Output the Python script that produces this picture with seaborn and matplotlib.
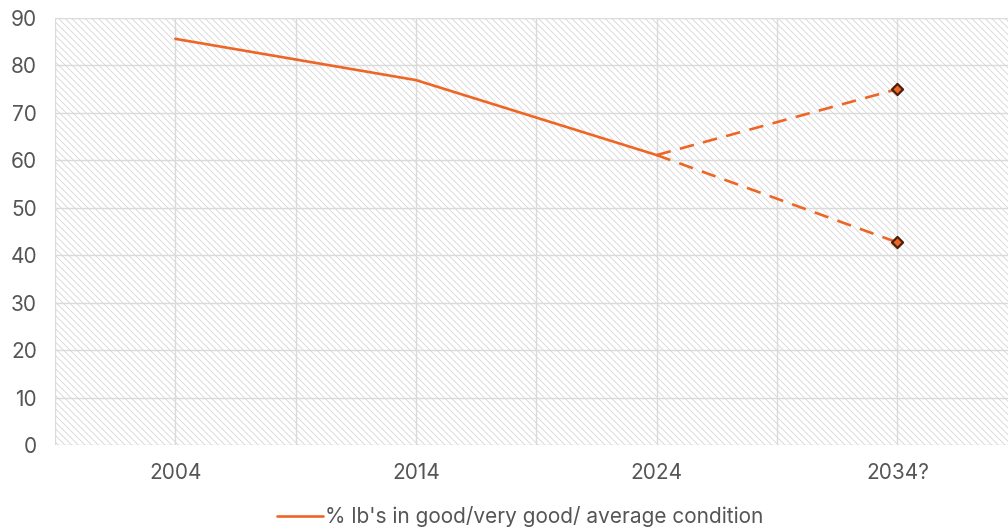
import matplotlib
matplotlib.use("Agg")
import matplotlib.pyplot as plt
import seaborn as sns
import pandas as pd

# Categories and series values
years = ["2004", "2014", "2024", "2034?"]
share_good = [85.6, 76.9, 61.1]            # observed share, 2004-2024
proj_high = [61.1, 75.0]                   # optimistic projection, 2024 -> 2034?
proj_low = [61.1, 42.7]                    # pessimistic projection, 2024 -> 2034?
y_ticks = [0, 10, 20, 30, 40, 50, 60, 70, 80, 90]
legend_label = "% lb's in good/very good/ average condition"

orange = "#EE6626"
edge_dark = "#4A1E08"
text_grey = "#555555"
grid_grey = "#DADADA"
hatch_grey = "#D2D2D2"

sns.set_theme(style="white")
plt.rcParams["font.family"] = ["Inter", "DejaVu Sans"]
plt.rcParams["hatch.color"] = hatch_grey
plt.rcParams["hatch.linewidth"] = 0.55

fig = plt.figure(figsize=(10.08, 5.30), dpi=100)
ax = fig.add_axes([0.0546, 0.1604, 0.955, 0.8057])

# Hatched plot background
ax.patch.set_facecolor("white")
ax.patch.set_hatch("\\" * 5)
ax.patch.set_edgecolor(hatch_grey)
ax.patch.set_linewidth(0)

pos = list(range(len(years)))
main_df = pd.DataFrame({"x": pos[:3], "y": share_good})
high_df = pd.DataFrame({"x": pos[2:], "y": proj_high})
low_df = pd.DataFrame({"x": pos[2:], "y": proj_low})

sns.lineplot(data=main_df, x="x", y="y", ax=ax, color=orange, linewidth=1.9,
             label=legend_label, zorder=3)
for df in (high_df, low_df):
    sns.lineplot(data=df, x="x", y="y", ax=ax, color=orange, linewidth=1.9,
                 linestyle=(0, (5.5, 3.6)), zorder=3)

end_df = pd.DataFrame({"x": [pos[3], pos[3]], "y": [proj_high[-1], proj_low[-1]]})
sns.scatterplot(data=end_df, x="x", y="y", ax=ax, marker="D", s=32,
                color=orange, edgecolor=edge_dark, linewidth=1.6, zorder=4,
                legend=False)

# Axes, ticks and grid
ax.set_xlim(-0.5, 3.5)
ax.set_ylim(0, 90)
ax.set_yticks(y_ticks)
ax.set_xticks(pos)
ax.set_xticklabels(years)
ax.set_xticks([p + 0.5 for p in pos[:-1]] + [-0.5], minor=True)
ax.grid(True, which="both", color=grid_grey, linewidth=1.0)
ax.set_axisbelow(True)
ax.tick_params(axis="both", which="both", length=0, colors=text_grey, labelsize=15)
ax.tick_params(axis="y", pad=13)
ax.tick_params(axis="x", pad=13)
ax.set_xlabel("")
ax.set_ylabel("")
for s in ax.spines.values():
    s.set_visible(False)

ax.get_legend().remove()
handles, labels = ax.get_legend_handles_labels()
fig.legend(handles[:1], labels[:1], loc="center", bbox_to_anchor=(0.516, 0.025),
           frameon=False, fontsize=15, labelcolor=text_grey,
           handlelength=2.2, handletextpad=0.1)

fig.savefig("out.png", dpi=100)
